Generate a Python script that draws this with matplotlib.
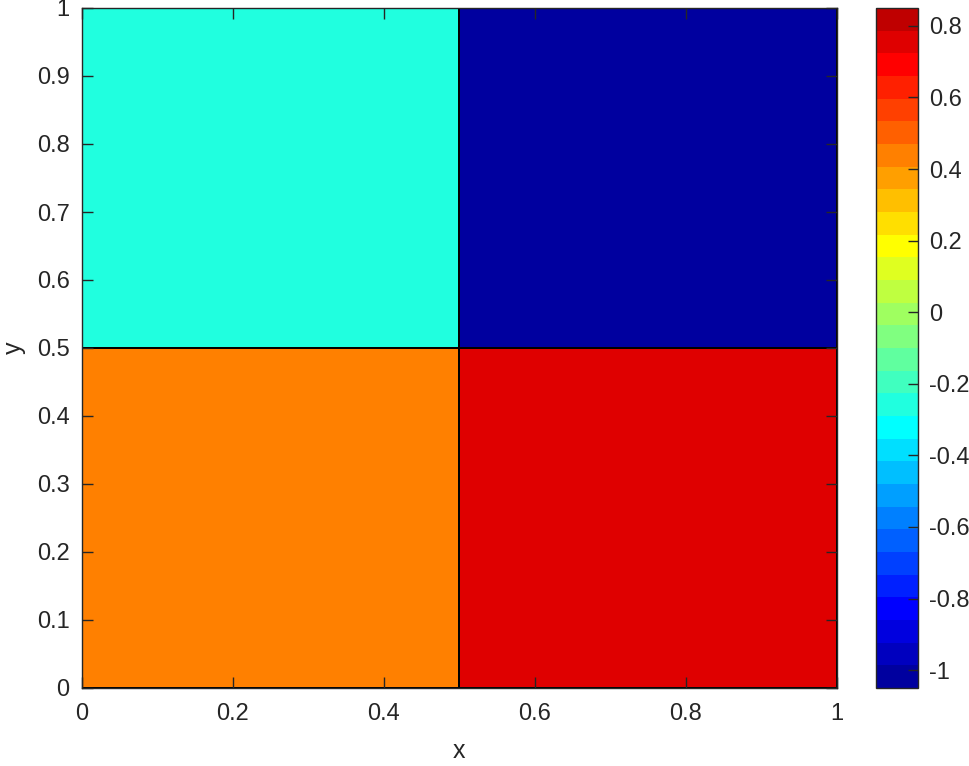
import numpy as np
import matplotlib
matplotlib.use("Agg")
import matplotlib.pyplot as plt
from matplotlib.colors import ListedColormap, Normalize

# data
x_edges = [0.0, 0.5, 1.0]
y_edges = [0.0, 0.5, 1.0]
cell_values_bottom = [0.45, 0.75]
cell_values_top = [-0.25, -1.0]
clim_min, clim_max = -1.05, 0.85
n_levels = 30
x_ticks = [0, 0.2, 0.4, 0.6, 0.8, 1]
y_ticks = [0, 0.1, 0.2, 0.3, 0.4, 0.5, 0.6, 0.7, 0.8, 0.9, 1]
cbar_ticks = [-1, -0.8, -0.6, -0.4, -0.2, 0, 0.2, 0.4, 0.6, 0.8]


def matlab_jet(m):
    n = int(np.ceil(m / 4))
    u = np.concatenate([np.arange(1, n + 1) / n, np.ones(n - 1), np.arange(n, 0, -1) / n])
    g = int(np.ceil(n / 2)) - (1 if m % 4 == 1 else 0) + np.arange(1, len(u) + 1)
    r = g + n
    b = g - n
    J = np.zeros((m, 3))
    for idx, col in ((r, 0), (g, 1), (b, 2)):
        mask = (idx >= 1) & (idx <= m)
        J[idx[mask] - 1, col] = u[mask]
    return J


plt.rcParams['font.family'] = ['Liberation Sans', 'DejaVu Sans']
plt.rcParams['axes.unicode_minus'] = False
grey = (0.15, 0.15, 0.15)

fig = plt.figure(figsize=(9.69, 7.66), dpi=100)
ax = fig.add_axes([82 / 969, 1 - 688 / 766, (836.7 - 82) / 969, (688 - 8) / 766])
cax = fig.add_axes([876 / 969, 1 - 688 / 766, 42 / 969, (688 - 8) / 766])

cmap = ListedColormap(matlab_jet(n_levels))
norm = Normalize(vmin=clim_min, vmax=clim_max)
C = np.array([cell_values_bottom, cell_values_top])
mesh = ax.pcolormesh(x_edges, y_edges, C, cmap=cmap, norm=norm,
                     edgecolors='black', linewidth=1.1)

ax.set_xlim(0, 1)
ax.set_ylim(0, 1)
ax.set_xticks(x_ticks)
ax.set_xticklabels(['%g' % v for v in x_ticks])
ax.set_yticks(y_ticks)
ax.set_yticklabels(['%g' % v for v in y_ticks])
ax.tick_params(axis='x', direction='in', length=8, width=1, colors=grey, labelsize=17,
               top=True, pad=11, labelcolor=grey)
ax.tick_params(axis='y', direction='in', length=8, width=1, colors=grey, labelsize=17,
               right=True, pad=9, labelcolor=grey)
for s in ax.spines.values():
    s.set_color(grey)
    s.set_linewidth(1)
    s.set_zorder(5)
ax.set_xlabel('x', fontsize=18, color=grey, labelpad=10)
ax.set_ylabel('y', fontsize=18, color=grey, labelpad=8)

cb = fig.colorbar(mesh, cax=cax)
cb.set_ticks(cbar_ticks)
cb.set_ticklabels(['%g' % v for v in cbar_ticks])
cax.tick_params(direction='in', length=7, width=1, colors=grey, labelsize=17,
                pad=8, labelcolor=grey)
cb.outline.set_edgecolor(grey)
cb.outline.set_linewidth(1)

fig.savefig('out.png', dpi=100)
